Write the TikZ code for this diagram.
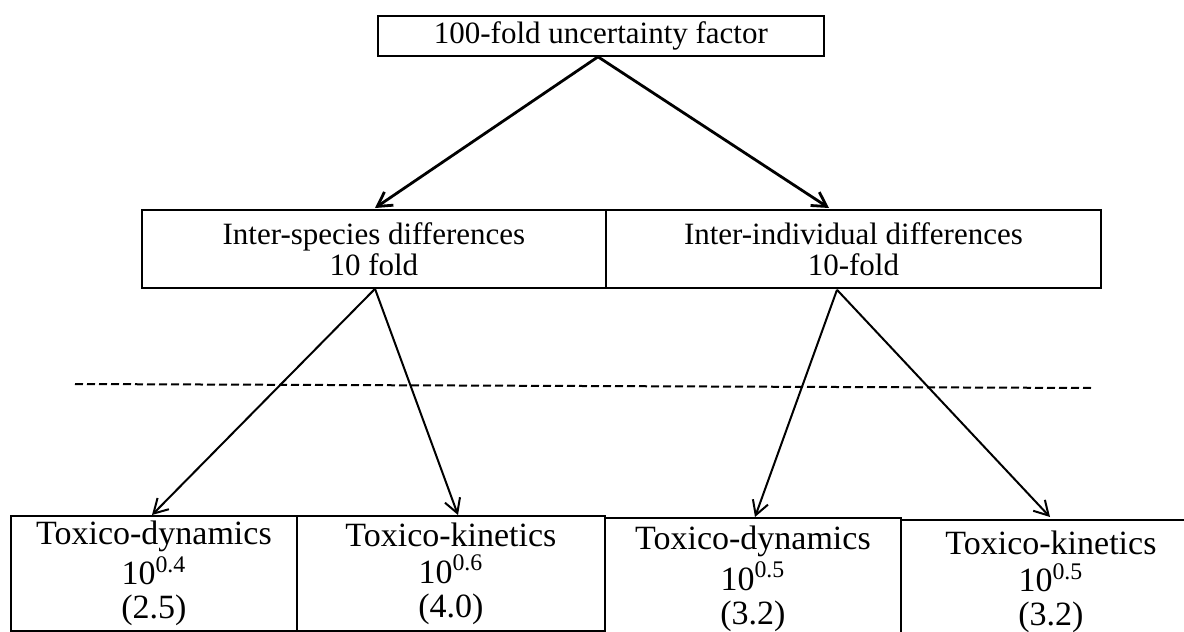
\documentclass[tikz,border=0pt]{standalone}
\usepackage{fontspec}
\setmainfont{Liberation Serif}
\usetikzlibrary{arrows.meta,calc}
\begin{document}
\begin{tikzpicture}[x=0.5pt,y=-0.5pt,
  box/.style={draw,line width=0.9pt,inner sep=0pt,align=center,anchor=north west,
    font=\fontsize{15.5}{15.5}\selectfont},
  lowbox/.style={box,font=\fontsize{17}{17}\selectfont},
  arr/.style={-{Straight Barb[length=7pt,width=8pt]},line width=1.4pt},
  arrthin/.style={-{Straight Barb[length=7pt,width=8pt]},line width=1pt},
  sep/.style={dashed,dash pattern=on 4pt off 2pt,line width=1pt}]
\useasboundingbox (0,0) rectangle (1184,632);
\node[box,minimum width=223pt,minimum height=20pt] (top) at (377,15) {100-fold uncertainty factor};
\node[box,minimum width=232pt,minimum height=39pt] (inter) at (141,209) {Inter-species differences\\10 fold};
\node[box,minimum width=247.5pt,minimum height=39pt] (indiv) at (605,209) {Inter-individual differences\\10-fold};
\node[lowbox,minimum width=143pt,minimum height=57.5pt] (td1) at (10,515) {Toxico-dynamics\\[1.5pt]10\textsuperscript{0.4}\\(2.5)};
\node[lowbox,minimum width=154pt,minimum height=57.5pt] (tk1) at (296,515) {Toxico-kinetics\\[1.5pt]10\textsuperscript{0.6}\\(4.0)};
\node[lowbox,minimum width=148pt,minimum height=61pt] (td2) at (604,517) {Toxico-dynamics\\[1.5pt]10\textsuperscript{0.5}\\(3.2)};
\node[lowbox,minimum width=150pt,minimum height=62pt] (tk2) at (900,519) {Toxico-kinetics\\[1.5pt]10\textsuperscript{0.5}\\(3.2)};
\coordinate (s0) at ($(top.south west)+(221,0)$);
\coordinate (s1) at ($(inter.south west)+(234,0)$);
\coordinate (s2) at ($(indiv.south west)+(232,1)$);
\coordinate (d1) at (75,384);
\coordinate (d2) at (1092,388);
\draw[arr] (s0) -- ($(inter.north west)+(234,-1)$);
\draw[arr] (s0) -- ($(indiv.north west)+(224,-1)$);
\draw[arrthin] (s1) -- ($(td1.north west)+(142,0)$);
\draw[arrthin] (s1) -- ($(tk1.north west)+(162,0)$);
\draw[arrthin] (s2) -- ($(td2.north west)+(151,0)$);
\draw[arrthin] (s2) -- ($(tk2.north west)+(150,-2)$);
\draw[sep] (d1) -- (d2);
\end{tikzpicture}
\end{document}
